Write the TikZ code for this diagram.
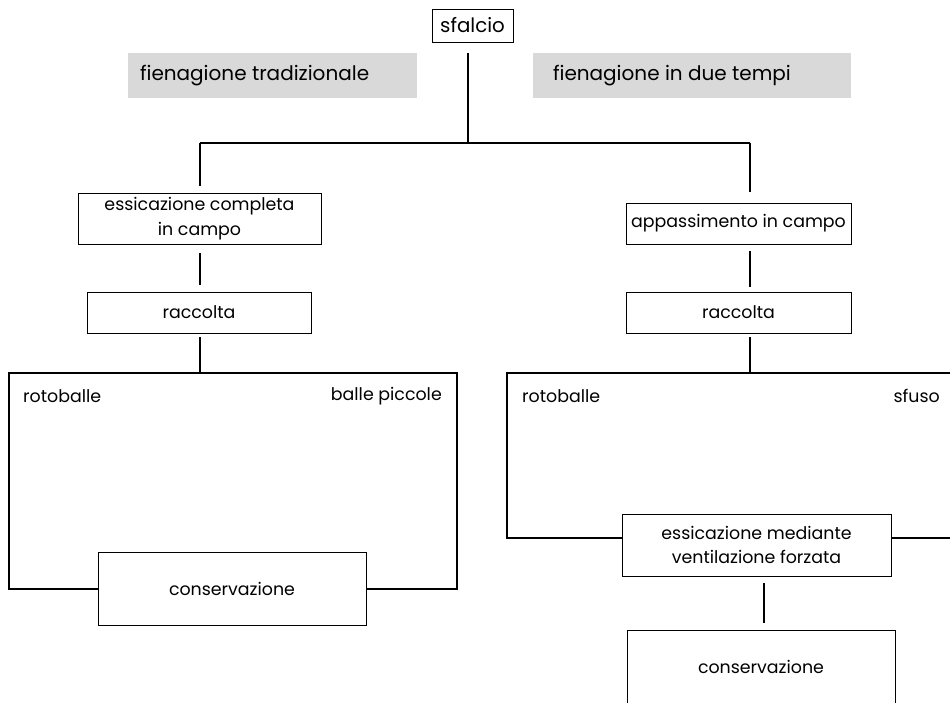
\documentclass[tikz,border=0pt]{standalone}
\usepackage{fontspec}
\setmainfont{Poppins}
\begin{document}
\begin{tikzpicture}[x=1pt,y=-1pt,
  box/.style={draw, line width=0.9pt, fill=white, align=center, inner sep=0pt, font=\fontsize{17.4}{24.5}\selectfont},
  graybox/.style={fill=black!15, draw=none, inner sep=0pt, minimum height=45pt},
  headtxt/.style={inner sep=0pt, font=\fontsize{20}{24}\selectfont},
  lbl/.style={inner sep=0pt, font=\fontsize{17.4}{22}\selectfont},
  conn/.style={line width=2.2pt}]
\useasboundingbox (0,0) rectangle (950,702);
% top
\node[box, minimum width=81pt, minimum height=33pt, font=\fontsize{19.8}{24}\selectfont] (s) at (472.5,25.5) {sfalcio};
\node[graybox, minimum width=289pt] (gL) at (272.5,75.5) {};
\node[headtxt, anchor=west] (tL) at ([xshift=12pt]gL.west) {fienagione tradizionale};
\node[graybox, minimum width=318pt] (gR) at (692,75.5) {};
\node[headtxt, anchor=west] (tR) at ([xshift=20pt]gR.west) {fienagione in due tempi};
\coordinate (jc) at (468,143);
\coordinate (jl) at (200,143);
\coordinate (jr) at (750,143);
% left branch
\node[box, minimum width=243pt, minimum height=51pt] (eL) at (199.5,218.5) {essicazione completa\\in campo};
\node[box, minimum width=224pt, minimum height=41pt] (rL) at (199,312.5) {raccolta};
\coordinate (topL) at (200,373);
% right branch
\node[box, minimum width=225pt, minimum height=41pt] (aR) at (738.5,223.5) {appassimento in campo};
\node[box, minimum width=225pt, minimum height=41pt] (rR) at (738.5,312.5) {raccolta};
\coordinate (topR) at (750,373);
% connectors
\draw[conn, shorten <=11pt] (jc |- s.south) -- (jc);
\draw[conn] (jl) -- (jr);
\draw[conn, shorten >=7pt] (jl) -- (jl |- eL.north);
\draw[conn, shorten >=11pt] (jr) -- (jr |- aR.north);
\draw[conn, shorten <=9pt, shorten >=7pt] (jl |- eL.south) -- (jl |- rL.north);
\draw[conn, shorten <=4pt] (jl |- rL.south) -- (topL);
\draw[conn, shorten <=7pt, shorten >=5pt] (jr |- aR.south) -- (jr |- rR.north);
\draw[conn, shorten <=4pt] (jr |- rR.south) -- (topR);
% big frames
\draw[conn] (9,373) rectangle (457,589);
\draw[conn] (507,373) rectangle (970,538);
\node[lbl, anchor=west] (roL) at (23,396) {rotoballe};
\node[lbl, anchor=east] (bpL) at (442,396) {balle piccole};
\node[lbl, anchor=west] (roR) at (522,396) {rotoballe};
\node[lbl, anchor=east] (sfR) at (940,396) {sfuso};
\node[box, minimum width=268pt, minimum height=73pt] (cL) at (232,589) {conservazione};
\node[box, minimum width=269pt, minimum height=62pt] (eR) at (756.5,545) {essicazione mediante\\ventilazione forzata};
\node[box, minimum width=268pt, minimum height=74pt, text depth=0pt] (cR) at (761,667) {conservazione};
\coordinate (jm) at (764,600);
\draw[conn, shorten <=7pt, shorten >=7pt] (jm |- eR.south) -- (jm |- cR.north);
\end{tikzpicture}
\end{document}
